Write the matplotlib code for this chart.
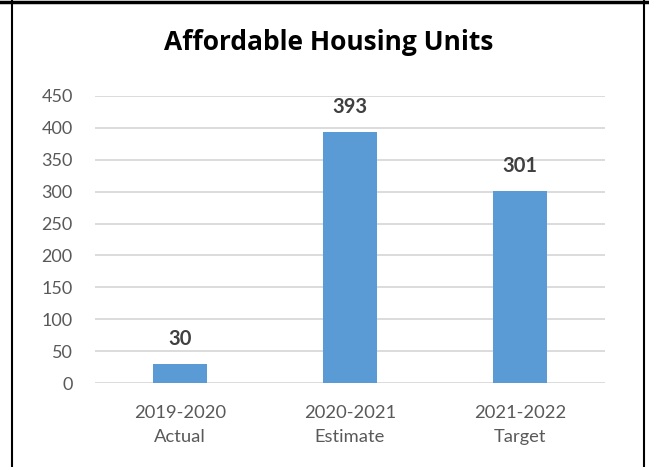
import matplotlib
matplotlib.use("Agg")
import matplotlib.pyplot as plt
from matplotlib.lines import Line2D

# data
categories = ["2019-2020\nActual", "2020-2021\nEstimate", "2021-2022\nTarget"]
units = [30, 393, 301]
yticks = [0, 50, 100, 150, 200, 250, 300, 350, 400, 450]

plt.rcParams["font.family"] = ["Lato", "DejaVu Sans"]

W, H = 649, 467
fig = plt.figure(figsize=(W / 100, H / 100), dpi=100)
ax = fig.add_axes([95 / W, 84 / H, 510 / W, 287 / H])

x = list(range(len(units)))
bars = ax.bar(x, units, width=0.315, color="#5B9BD5", zorder=3)

for b, v in zip(bars, units):
    ax.annotate(str(v), (b.get_x() + b.get_width() / 2, v),
                xytext=(0, 18), textcoords="offset points",
                ha="center", va="center", fontsize=14.5,
                fontweight="bold", color="#404040")

ax.set_xlim(-0.5, 2.5)
ax.set_ylim(0, 450)
ax.set_yticks(yticks)
ax.set_xticks(x)
ax.set_xticklabels(categories, fontsize=13.2, color="#595959", linespacing=1.65)
ax.tick_params(axis="y", labelsize=13, labelcolor="#595959", length=0, pad=16)
ax.tick_params(axis="x", length=0, pad=15.5)
ax.grid(axis="y", color="#D9D9D9", linewidth=1.3, zorder=0)
for s in ax.spines.values():
    s.set_visible(False)

fig.text(329 / W, 1 - 42 / H, "Affordable Housing Units", ha="center",
         va="center", fontsize=19, fontweight="bold", color="black",
         family=["Open Sans", "DejaVu Sans"])

# outer frame (left, top, right)
fig.add_artist(Line2D([11.5 / W, 11.5 / W], [0, 1], color="black", lw=1.5))
fig.add_artist(Line2D([0, 1], [1 - 2 / H, 1 - 2 / H], color="black", lw=2.5))
fig.add_artist(Line2D([644 / W, 644 / W], [0, 1], color="black", lw=1.5))

fig.savefig("out.png", dpi=100)
